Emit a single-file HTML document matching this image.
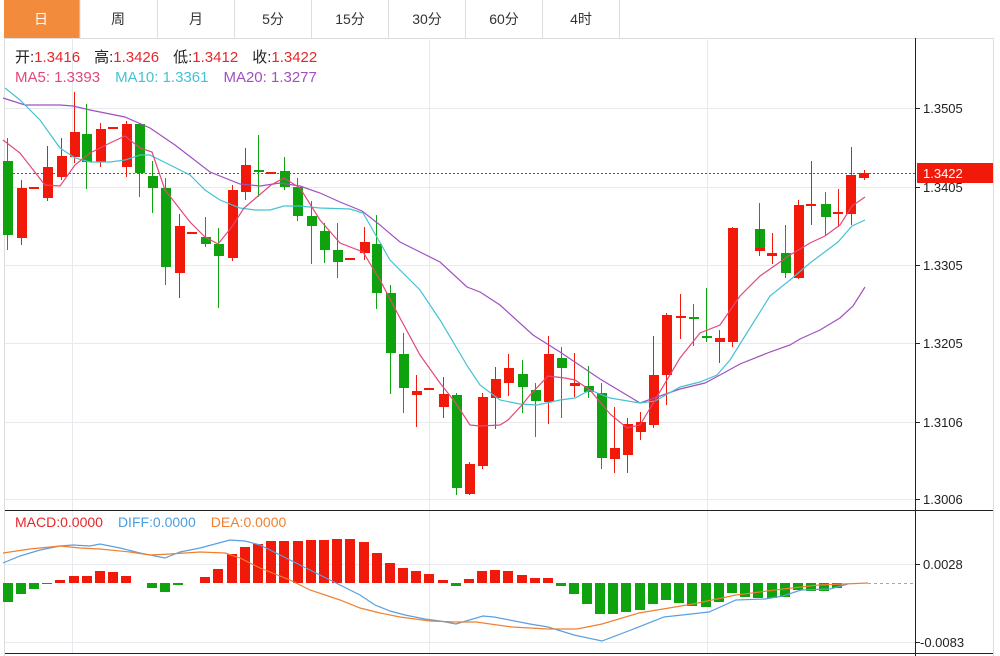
<!DOCTYPE html>
<html><head><meta charset="utf-8"><style>
html,body{margin:0;padding:0;background:#fff;width:1000px;height:656px;overflow:hidden;font-family:"Liberation Sans","Noto Sans CJK SC",sans-serif;}
</style></head><body>
<svg width="1000" height="656" viewBox="0 0 1000 656" xmlns="http://www.w3.org/2000/svg" font-family="Liberation Sans, Noto Sans CJK SC, sans-serif">
<rect x="4" y="0" width="76" height="38" fill="#f28b3c"/>
<g stroke="#dddddd" stroke-width="1">
<line x1="80" y1="0" x2="80" y2="38"/><line x1="157.5" y1="0" x2="157.5" y2="38"/><line x1="234.5" y1="0" x2="234.5" y2="38"/><line x1="311.5" y1="0" x2="311.5" y2="38"/><line x1="388.5" y1="0" x2="388.5" y2="38"/><line x1="465.5" y1="0" x2="465.5" y2="38"/><line x1="542.5" y1="0" x2="542.5" y2="38"/><line x1="619.5" y1="0" x2="619.5" y2="38"/>
<line x1="4" y1="38.5" x2="993" y2="38.5"/>
<line x1="4.5" y1="38" x2="4.5" y2="656"/>
<line x1="993.5" y1="38" x2="993.5" y2="656"/>
</g>
<g font-size="14" text-anchor="middle" fill="#333">
<text x="41" y="24" fill="#fff">日</text><text x="118" y="24">周</text><text x="196" y="24">月</text><text x="273" y="24">5分</text><text x="350" y="24">15分</text><text x="427" y="24">30分</text><text x="504" y="24">60分</text><text x="581" y="24">4时</text>
</g>
<g stroke="#e6e9ee" stroke-width="1">
<line x1="5" y1="108.5" x2="915" y2="108.5"/><line x1="5" y1="187.5" x2="915" y2="187.5"/><line x1="5" y1="265.5" x2="915" y2="265.5"/><line x1="5" y1="343.5" x2="915" y2="343.5"/><line x1="5" y1="422.5" x2="915" y2="422.5"/><line x1="5" y1="499.5" x2="915" y2="499.5"/>
<line x1="72.5" y1="38" x2="72.5" y2="653"/><line x1="429.5" y1="38" x2="429.5" y2="653"/><line x1="707.5" y1="38" x2="707.5" y2="653"/>
<line x1="5" y1="564.5" x2="915" y2="564.5"/><line x1="5" y1="642.5" x2="915" y2="642.5"/>
</g>
<line x1="915.5" y1="38" x2="915.5" y2="656" stroke="#222"/>
<line x1="5" y1="510.5" x2="993" y2="510.5" stroke="#222"/>
<line x1="5" y1="653.5" x2="993" y2="653.5" stroke="#222"/>
<g font-size="13" fill="#222">
<line x1="915" y1="108.5" x2="920" y2="108.5" stroke="#222"/><text x="923" y="113">1.3505</text>
<line x1="915" y1="187.5" x2="920" y2="187.5" stroke="#222"/><text x="923" y="192">1.3405</text>
<line x1="915" y1="265.5" x2="920" y2="265.5" stroke="#222"/><text x="923" y="270">1.3305</text>
<line x1="915" y1="343.5" x2="920" y2="343.5" stroke="#222"/><text x="923" y="348">1.3205</text>
<line x1="915" y1="422.5" x2="920" y2="422.5" stroke="#222"/><text x="923" y="427">1.3106</text>
<line x1="915" y1="499.5" x2="920" y2="499.5" stroke="#222"/><text x="923" y="504">1.3006</text>
<line x1="915" y1="564.5" x2="920" y2="564.5" stroke="#222"/><text x="923" y="569">0.0028</text>
<line x1="915" y1="642.5" x2="920" y2="642.5" stroke="#222"/><text x="920" y="647">-0.0083</text>
</g>
<rect x="917" y="163" width="76" height="20" fill="#f0190a"/>
<text x="923" y="178" font-size="13" fill="#fff">1.3422</text>
<line x1="5" y1="173.5" x2="917" y2="173.5" stroke="#f0190a" stroke-dasharray="2,2"/>
<g font-size="15">
<text x="15" y="62"><tspan fill="#222">开:</tspan><tspan fill="#e8262a">1.3416</tspan><tspan fill="#222" dx="14">高:</tspan><tspan fill="#e8262a">1.3426</tspan><tspan fill="#222" dx="14">低:</tspan><tspan fill="#e8262a">1.3412</tspan><tspan fill="#222" dx="14">收:</tspan><tspan fill="#e8262a">1.3422</tspan></text>
<text x="15" y="82"><tspan fill="#e2487c">MA5: 1.3393</tspan><tspan fill="#45c2d3" dx="15">MA10: 1.3361</tspan><tspan fill="#a050c0" dx="15">MA20: 1.3277</tspan></text>
<text x="15" y="527" font-size="14"><tspan fill="#e8262a">MACD:0.0000</tspan><tspan fill="#4a9ee0" dx="15">DIFF:0.0000</tspan><tspan fill="#f08030" dx="15">DEA:0.0000</tspan></text>
</g>
<g>
<g fill="#0ea20e">
<rect x="7" y="138" width="1" height="112"/><rect x="3" y="161" width="10" height="74"/>
<rect x="86" y="104" width="1" height="85"/><rect x="82" y="134" width="10" height="28"/>
<rect x="139" y="123" width="1" height="74"/><rect x="135" y="124" width="10" height="49"/>
<rect x="152" y="161" width="1" height="52"/><rect x="148" y="176" width="10" height="12"/>
<rect x="165" y="178" width="1" height="107"/><rect x="161" y="188" width="10" height="79"/>
<rect x="205" y="217" width="1" height="30"/><rect x="201" y="237" width="10" height="7"/>
<rect x="218" y="228" width="1" height="80"/><rect x="214" y="244" width="10" height="12"/>
<rect x="258" y="135" width="1" height="62"/><rect x="254" y="170" width="10" height="2"/>
<rect x="284" y="157" width="1" height="33"/><rect x="280" y="171" width="10" height="16"/>
<rect x="297" y="178" width="1" height="43"/><rect x="293" y="187" width="10" height="29"/>
<rect x="311" y="201" width="1" height="63"/><rect x="307" y="216" width="10" height="10"/>
<rect x="324" y="223" width="1" height="40"/><rect x="320" y="231" width="10" height="19"/>
<rect x="337" y="223" width="1" height="55"/><rect x="333" y="250" width="10" height="12"/>
<rect x="376" y="215" width="1" height="94"/><rect x="372" y="244" width="10" height="49"/>
<rect x="390" y="285" width="1" height="109"/><rect x="386" y="293" width="10" height="60"/>
<rect x="403" y="333" width="1" height="80"/><rect x="399" y="354" width="10" height="34"/>
<rect x="456" y="393" width="1" height="102"/><rect x="452" y="395" width="10" height="93"/>
<rect x="522" y="360" width="1" height="53"/><rect x="518" y="374" width="10" height="13"/>
<rect x="535" y="383" width="1" height="54"/><rect x="531" y="390" width="10" height="11"/>
<rect x="561" y="347" width="1" height="71"/><rect x="557" y="358" width="10" height="10"/>
<rect x="588" y="366" width="1" height="32"/><rect x="584" y="386" width="10" height="6"/>
<rect x="601" y="383" width="1" height="86"/><rect x="597" y="393" width="10" height="65"/>
<rect x="693" y="304" width="1" height="42"/><rect x="689" y="317" width="10" height="2"/>
<rect x="706" y="288" width="1" height="54"/><rect x="702" y="336" width="10" height="2"/>
<rect x="759" y="203" width="1" height="49"/><rect x="755" y="229" width="10" height="20"/>
<rect x="785" y="225" width="1" height="53"/><rect x="781" y="253" width="10" height="20"/>
<rect x="825" y="192" width="1" height="43"/><rect x="821" y="204" width="10" height="13"/>
</g>
<g fill="#f0190a">
<rect x="21" y="180" width="1" height="65"/><rect x="17" y="188" width="10" height="50"/>
<rect x="29" y="187" width="10" height="2"/>
<rect x="47" y="146" width="1" height="55"/><rect x="43" y="167" width="10" height="31"/>
<rect x="61" y="138" width="1" height="42"/><rect x="57" y="156" width="10" height="21"/>
<rect x="74" y="92" width="1" height="71"/><rect x="70" y="132" width="10" height="25"/>
<rect x="100" y="123" width="1" height="44"/><rect x="96" y="129" width="10" height="33"/>
<rect x="108" y="127" width="10" height="2"/>
<rect x="126" y="121" width="1" height="56"/><rect x="122" y="124" width="10" height="43"/>
<rect x="179" y="214" width="1" height="84"/><rect x="175" y="226" width="10" height="47"/>
<rect x="187" y="232" width="10" height="2"/>
<rect x="232" y="185" width="1" height="76"/><rect x="228" y="190" width="10" height="68"/>
<rect x="245" y="148" width="1" height="52"/><rect x="241" y="165" width="10" height="27"/>
<rect x="266" y="172" width="10" height="2"/>
<rect x="345" y="258" width="10" height="2"/>
<rect x="364" y="227" width="1" height="33"/><rect x="360" y="242" width="10" height="11"/>
<rect x="416" y="375" width="1" height="52"/><rect x="412" y="391" width="10" height="4"/>
<rect x="424" y="388" width="10" height="2"/>
<rect x="443" y="377" width="1" height="41"/><rect x="439" y="394" width="10" height="13"/>
<rect x="469" y="462" width="1" height="33"/><rect x="465" y="464" width="10" height="30"/>
<rect x="482" y="393" width="1" height="76"/><rect x="478" y="397" width="10" height="69"/>
<rect x="495" y="367" width="1" height="62"/><rect x="491" y="379" width="10" height="19"/>
<rect x="508" y="354" width="1" height="42"/><rect x="504" y="368" width="10" height="15"/>
<rect x="548" y="336" width="1" height="88"/><rect x="544" y="354" width="10" height="48"/>
<rect x="574" y="353" width="1" height="44"/><rect x="570" y="383" width="10" height="3"/>
<rect x="614" y="407" width="1" height="66"/><rect x="610" y="448" width="10" height="11"/>
<rect x="627" y="418" width="1" height="55"/><rect x="623" y="424" width="10" height="31"/>
<rect x="640" y="412" width="1" height="28"/><rect x="636" y="422" width="10" height="10"/>
<rect x="653" y="336" width="1" height="92"/><rect x="649" y="375" width="10" height="50"/>
<rect x="666" y="313" width="1" height="92"/><rect x="662" y="315" width="10" height="60"/>
<rect x="680" y="294" width="1" height="45"/><rect x="676" y="316" width="10" height="2"/>
<rect x="719" y="330" width="1" height="33"/><rect x="715" y="338" width="10" height="4"/>
<rect x="732" y="227" width="1" height="120"/><rect x="728" y="228" width="10" height="114"/>
<rect x="759" y="220" width="1" height="36"/><rect x="755" y="248" width="10" height="3"/>
<rect x="772" y="233" width="1" height="31"/><rect x="767" y="253" width="10" height="3"/>
<rect x="798" y="200" width="1" height="79"/><rect x="794" y="205" width="10" height="73"/>
<rect x="811" y="161" width="1" height="64"/><rect x="806" y="204" width="10" height="2"/>
<rect x="838" y="189" width="1" height="38"/><rect x="833" y="212" width="10" height="2"/>
<rect x="851" y="147" width="1" height="78"/><rect x="846" y="175" width="10" height="39"/>
<rect x="864" y="170" width="1" height="10"/><rect x="859" y="173" width="10" height="5"/>
</g>
</g>
<g fill="none" stroke-width="1.2">
<polyline stroke="#a050c0" points="3,98 25,105 60,105 73,106 90,110 125,117 150,128 175,145 210,172 240,184 260,186 280,183 300,186 320,193 340,202 362,211 380,225 400,242 420,252 440,262 467,287 480,292 500,305 533,335 560,352 600,379 640,403 680,389 705,383 720,375 740,364 770,352 790,345 800,339 820,330 840,318 853,306 865,287"/>
<polyline stroke="#45c2d3" points="5,88 20,100 40,120 60,148 75,158 90,162 110,162 125,160 140,155 150,155 160,160 190,175 205,190 220,200 240,208 255,210 270,210 284,206 300,206 320,208 350,209 363,213 390,260 420,290 440,320 468,367 480,385 500,400 520,404 537,405 560,400 575,398 590,390 610,398 640,403 655,401 680,387 700,382 717,375 730,360 745,336 770,296 790,280 810,263 838,242 852,226 865,220"/>
<polyline stroke="#e2487c" points="3,140 20,153 45,185 60,186 75,165 90,153 110,143 125,136 140,148 152,152 165,190 190,222 205,237 218,244 231,228 244,208 257,197 271,185 284,178 300,188 320,220 340,243 363,252 380,280 400,318 420,355 440,383 455,402 470,425 480,426 500,425 508,420 522,405 530,395 548,376 565,378 575,380 590,390 610,414 627,428 640,425 655,400 680,358 700,333 720,325 740,296 760,276 790,255 810,243 825,236 840,225 852,206 865,197"/>
</g>
<g fill="#0ea20e">
<rect x="3" y="583" width="10" height="19"/><rect x="16" y="583" width="10" height="11"/><rect x="29" y="583" width="10" height="6"/><rect x="42" y="583" width="10" height="1"/>
<rect x="147" y="583" width="10" height="5"/><rect x="160" y="583" width="10" height="9"/><rect x="173" y="583" width="10" height="2"/>
<rect x="451" y="583" width="10" height="3"/>
<rect x="556" y="583" width="10" height="3"/><rect x="569" y="583" width="10" height="11"/><rect x="582" y="583" width="10" height="21"/><rect x="595" y="583" width="10" height="31"/><rect x="608" y="583" width="10" height="31"/><rect x="621" y="583" width="10" height="29"/><rect x="635" y="583" width="10" height="27"/><rect x="648" y="583" width="10" height="21"/><rect x="661" y="583" width="10" height="17"/><rect x="674" y="583" width="10" height="20"/><rect x="687" y="583" width="10" height="23"/><rect x="701" y="583" width="10" height="24"/><rect x="714" y="583" width="10" height="19"/><rect x="727" y="583" width="10" height="10"/><rect x="740" y="583" width="10" height="14"/><rect x="753" y="583" width="10" height="15"/><rect x="767" y="583" width="10" height="15"/><rect x="780" y="583" width="10" height="14"/><rect x="793" y="583" width="10" height="7"/><rect x="806" y="583" width="10" height="8"/><rect x="819" y="583" width="10" height="8"/><rect x="832" y="583" width="10" height="5"/>
</g>
<g fill="#f0190a">
<rect x="55" y="580" width="10" height="3"/><rect x="69" y="576" width="10" height="7"/><rect x="82" y="576" width="10" height="7"/><rect x="95" y="571" width="10" height="12"/><rect x="108" y="572" width="10" height="11"/><rect x="121" y="576" width="10" height="7"/>
<rect x="200" y="577" width="10" height="6"/><rect x="213" y="569" width="10" height="14"/><rect x="227" y="554" width="10" height="29"/><rect x="240" y="547" width="10" height="36"/><rect x="253" y="544" width="10" height="39"/><rect x="266" y="541" width="10" height="42"/><rect x="279" y="541" width="10" height="42"/><rect x="293" y="541" width="10" height="42"/><rect x="306" y="540" width="10" height="43"/><rect x="319" y="540" width="10" height="43"/><rect x="332" y="539" width="10" height="44"/><rect x="345" y="539" width="10" height="44"/><rect x="359" y="542" width="10" height="41"/><rect x="372" y="553" width="10" height="30"/><rect x="385" y="563" width="10" height="20"/><rect x="398" y="568" width="10" height="15"/><rect x="411" y="571" width="10" height="12"/><rect x="424" y="574" width="10" height="9"/><rect x="438" y="580" width="10" height="3"/>
<rect x="464" y="579" width="10" height="4"/><rect x="477" y="571" width="10" height="12"/><rect x="490" y="570" width="10" height="13"/><rect x="503" y="571" width="10" height="12"/><rect x="517" y="575" width="10" height="8"/><rect x="530" y="578" width="10" height="5"/><rect x="543" y="578" width="10" height="5"/>
</g>
<line x1="868" y1="583.5" x2="915" y2="583.5" stroke="#9ab" stroke-dasharray="3,3"/>
<g fill="none" stroke-width="1.2">
<polyline stroke="#5aa0e0" points="3,563 20,556 40,550 60,546 73,545 90,546 100,544 120,548 140,553 165,558 180,552 200,548 215,544 230,540 245,541 260,545 280,555 300,565 320,575 340,585 360,595 375,605 390,611 405,615 425,619 440,621 456,624 483,616 494,617 530,624 548,627 574,635 602,641 631,630 664,617 709,612 736,600 765,599 783,596 801,590 830,589 848,584"/>
<polyline stroke="#f08030" points="3,553 30,549 60,546 80,548 100,549 130,552 150,555 170,554 200,552 225,553 240,558 260,568 290,580 310,590 340,600 360,608 380,613 400,617 430,621 456,622 476,622 512,627 548,629 577,629 602,624 639,613 693,604 736,595 783,589 819,585 868,583"/>
</g>
</svg>
</body></html>
